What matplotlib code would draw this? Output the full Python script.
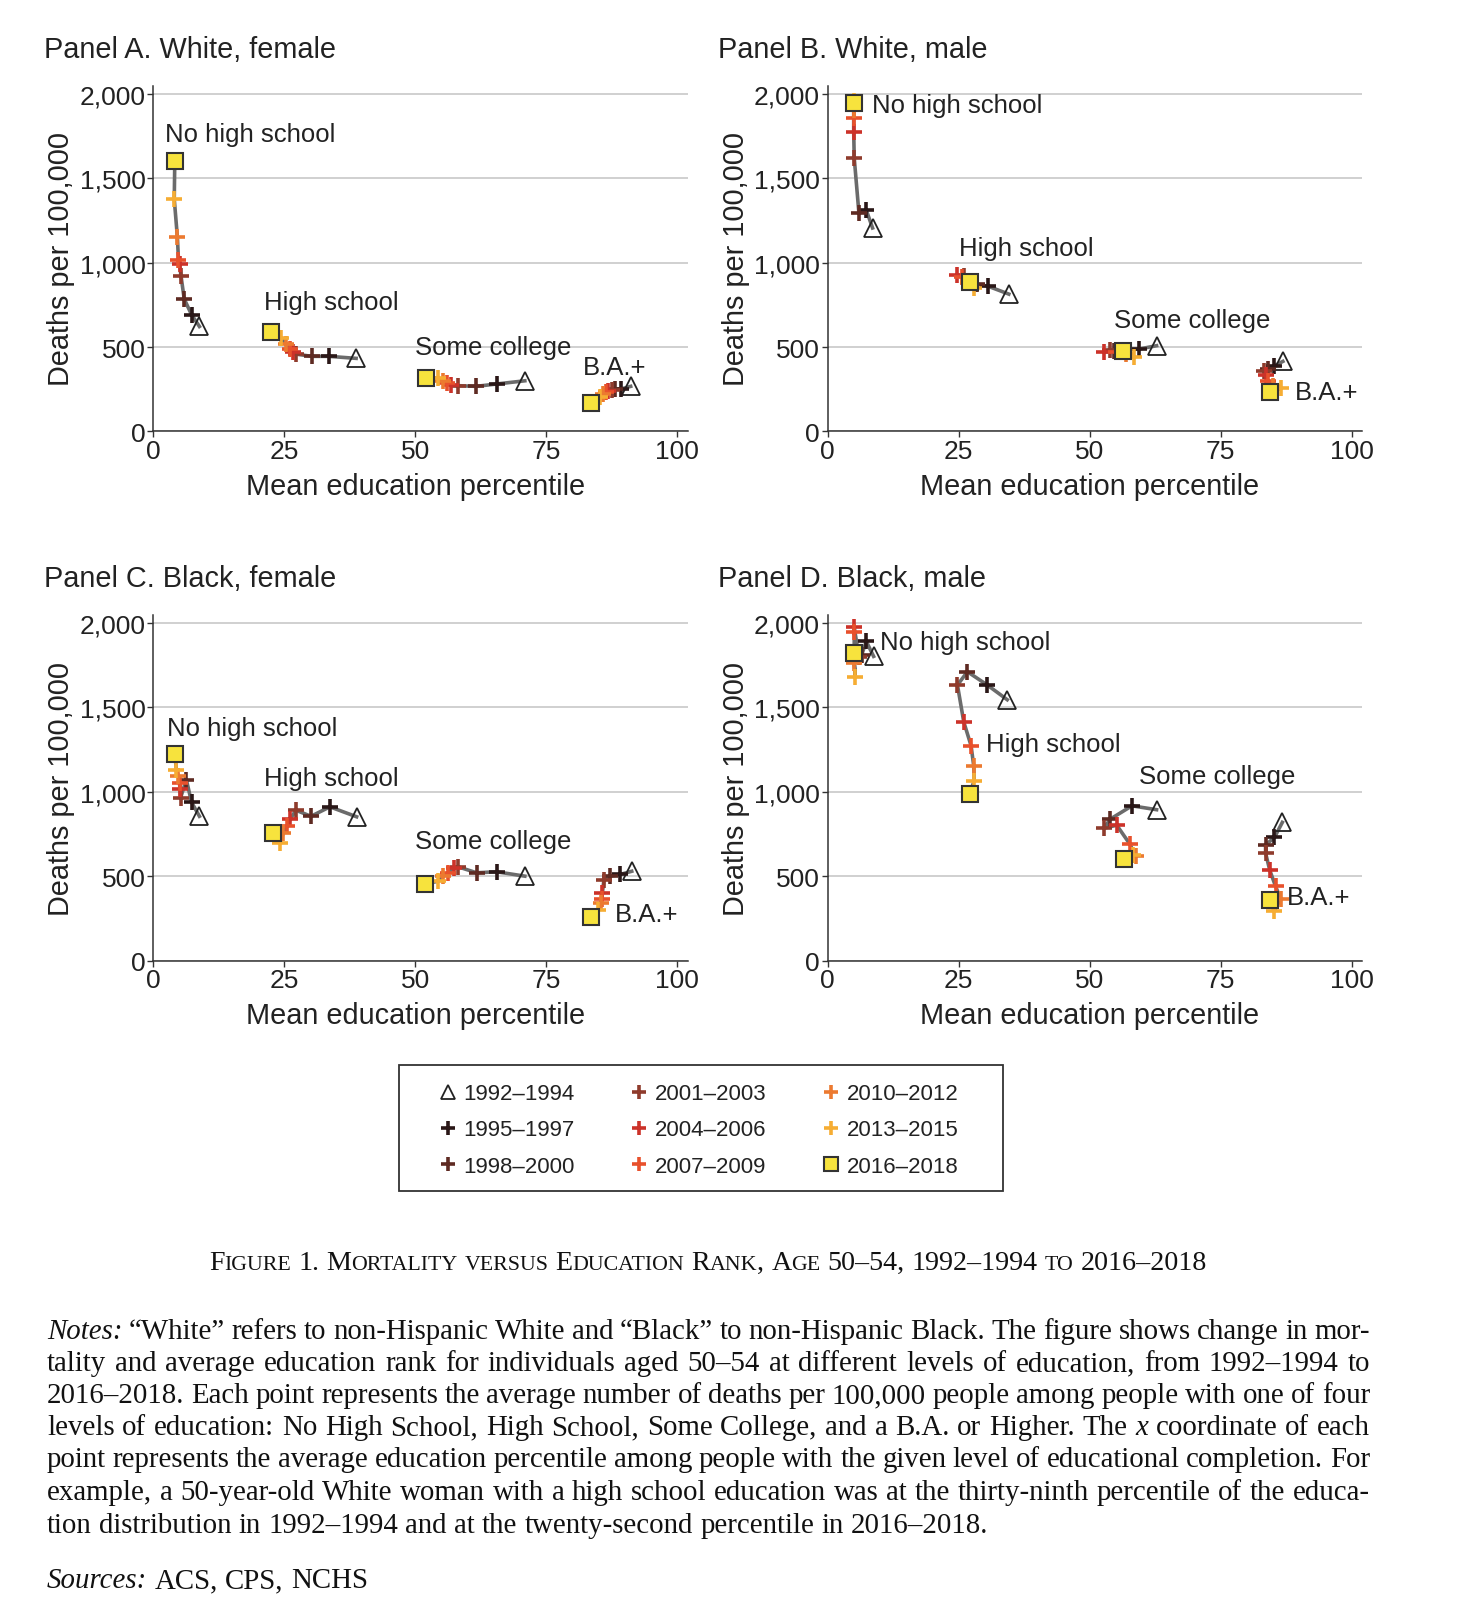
import matplotlib
matplotlib.use('Agg')
import matplotlib.pyplot as plt
from matplotlib.lines import Line2D
from matplotlib.patches import Rectangle

plt.rcParams['font.family'] = ['Liberation Sans', 'DejaVu Sans']

# periods, oldest first
periods = ['1992–1994', '1995–1997', '1998–2000', '2001–2003', '2004–2006',
           '2007–2009', '2010–2012', '2013–2015', '2016–2018']
period_colors = ['#222222', '#2a1717', '#5e2a22', '#8f3b2c', '#cc3229',
                 '#e8512c', '#ec7a30', '#f6ad33', '#f7e33d']

levels = ['No high school', 'High school', 'Some college', 'B.A.+']

# Panel A. White, female
a_x = [[8.8, 7.3, 5.9, 5.3, 5.0, 4.8, 4.6, 4.0, 4.1],
       [38.7, 33.5, 30.2, 27.3, 26.7, 26.0, 25.4, 24.4, 22.5],
       [70.9, 65.5, 61.6, 58.2, 56.8, 56.1, 55.3, 54.4, 52.0],
       [91.1, 89.2, 88.1, 87.5, 86.8, 86.4, 85.9, 85.2, 83.5]]
a_y = [[622, 692, 785, 919, 992, 1018, 1150, 1377, 1601],
       [433, 445, 445, 458, 468, 488, 518, 551, 587],
       [300, 281, 267, 271, 275, 285, 300, 316, 316],
       [267, 251, 251, 247, 241, 232, 222, 202, 168]]

# Panel B. White, male
b_x = [[8.6, 7.4, 6.0, 5.1, 5.0, 5.0, 5.0, 5.0, 5.0],
       [34.6, 30.7, 28.6, 26.0, 24.8, 25.6, 26.8, 27.9, 27.2],
       [62.8, 59.4, 54.6, 53.9, 52.7, 55.0, 57.0, 58.5, 56.4],
       [86.9, 85.3, 84.0, 83.3, 83.6, 84.0, 85.0, 86.5, 84.5]]
b_y = [[1206, 1312, 1293, 1621, 1777, 1858, 1905, 1958, 1945],
       [814, 860, 872, 923, 927, 915, 885, 848, 887],
       [508, 488, 478, 484, 472, 470, 460, 439, 475],
       [415, 389, 370, 360, 334, 300, 270, 255, 235]]

# Panel C. Black, female
c_x = [[8.8, 7.3, 6.3, 5.2, 5.1, 5.0, 4.8, 4.4, 4.1],
       [38.8, 33.7, 30.1, 27.2, 26.1, 25.5, 24.8, 24.2, 22.8],
       [70.9, 65.5, 61.7, 58.2, 57.3, 56.3, 55.3, 54.4, 51.9],
       [91.3, 89.1, 87.2, 86.0, 85.7, 85.6, 85.4, 84.9, 83.5]]
c_y = [[855, 938, 1073, 964, 1014, 1053, 1093, 1132, 1225],
       [852, 911, 855, 891, 836, 796, 757, 698, 753],
       [500, 526, 520, 555, 549, 520, 500, 470, 455],
       [529, 510, 500, 480, 401, 362, 342, 302, 259]]

# Panel D. Black, male
d_x = [[8.8, 7.4, 6.5, 6.0, 5.1, 5.1, 5.1, 5.3, 5.0],
       [34.3, 30.5, 26.7, 24.8, 26.0, 27.4, 27.9, 28.0, 27.1],
       [62.8, 58.1, 54.0, 52.7, 55.2, 57.7, 58.8, 58.3, 56.5],
       [86.8, 85.3, 83.6, 83.6, 84.4, 85.5, 86.5, 85.2, 84.5]]
d_y = [[1803, 1892, 1810, 1800, 1975, 1950, 1763, 1678, 1823],
       [1546, 1633, 1712, 1633, 1415, 1273, 1155, 1066, 987],
       [894, 917, 839, 784, 802, 690, 617, 625, 603],
       [819, 730, 685, 637, 535, 440, 365, 294, 360]]

panel_titles = ['Panel A. White, female', 'Panel B. White, male',
                'Panel C. Black, female', 'Panel D. Black, male']

# where the level labels sit (data coords)
a_lab = [(2.2, 1763), (21.1, 769), (50.0, 503), (82.0, 381)]
b_lab = [(8.4, 1933), (25.1, 1090), (54.6, 660), (89.1, 236)]
c_lab = [(2.6, 1378), (21.1, 1081), (50.0, 711), (88.0, 275)]
d_lab = [(10.0, 1887), (30.2, 1281), (59.4, 1093), (87.6, 378)]

yticks = [0, 500, 1000, 1500, 2000]
ytick_labels = ['0', '500', '1,000', '1,500', '2,000']
xticks = [0, 25, 50, 75, 100]

W, H = 1468, 1606
fig = plt.figure(figsize=(W / 100, H / 100), dpi=100)
txt = '#222222'

def marker_style(i, legend=False):
    if i == 0:
        return dict(marker='^', mfc='none', mec='#222222', mew=1.3,
                    ms=10.5 if legend else 12.5)
    if i == 8:
        return dict(marker='s', mfc=period_colors[8], mec='#333333', mew=1.5,
                    ms=10 if legend else 11)
    return dict(marker='+', color=period_colors[i], mew=2.6,
                ms=10 if legend else 11)

origins = [(153.3, 432.4), (827.5, 432.4), (153.3, 961.5), (827.5, 961.5)]
xs = [a_x, b_x, c_x, d_x]
ys = [a_y, b_y, c_y, d_y]
labs = [a_lab, b_lab, c_lab, d_lab]

for p in range(4):
    x0, y0 = origins[p]
    ax = fig.add_axes([x0 / W, 1 - y0 / H, 534.5 / W, 345.8 / H])
    ax.set_xlim(0, 102)
    ax.set_ylim(0, 2050)
    for s in ['top', 'right']:
        ax.spines[s].set_visible(False)
    for s in ['left', 'bottom']:
        ax.spines[s].set_color('#333333')
        ax.spines[s].set_linewidth(1.1)
    ax.set_yticks(yticks)
    ax.set_yticklabels(ytick_labels)
    ax.set_xticks(xticks)
    ax.tick_params(length=4.5, width=1, color='#333333', labelsize=19,
                   labelcolor=txt, pad=1)
    ax.yaxis.grid(True, color='#c8c8c8', lw=1.2)
    ax.set_axisbelow(True)

    for k in range(4):
        ax.plot(xs[p][k], ys[p][k], color='#6b6b6b', lw=2.6, zorder=2)
        for i in range(9):
            ax.plot(xs[p][k][i], ys[p][k][i], linestyle='none', zorder=3 + i,
                    **marker_style(i))
        lx, ly = labs[p][k]
        ax.text(lx, ly, levels[k], fontsize=18.5, color=txt, ha='left',
                va='center', zorder=20)

    ax.set_xlabel('Mean education percentile', fontsize=20.8, color=txt,
                  va='center')
    ax.xaxis.set_label_coords(0.49, -0.158)
    ax.set_ylabel('Deaths per 100,000', fontsize=20.8, color=txt, va='center')
    ax.yaxis.set_label_coords(-0.172, 0.5)
    ax.text(-0.205, 1.105, panel_titles[p], transform=ax.transAxes,
            fontsize=20.8, color=txt, ha='left', va='center')

# legend: frame drawn separately so the padding matches
handles = [Line2D([], [], linestyle='none', **marker_style(i, True))
           for i in range(9)]
fig.patches.append(Rectangle((399 / W, 1 - 1192 / H), 604 / W, 126 / H,
                             transform=fig.transFigure, fill=False,
                             ec='#333333', lw=1.3))
leg = fig.legend(handles, periods, ncol=3, loc='center',
                 bbox_to_anchor=(698 / W, 1 - 1131 / H), frameon=False,
                 fontsize=16, handlelength=0.9, handletextpad=0.25,
                 columnspacing=2.45, labelspacing=0.68, borderpad=0)
for t in leg.get_texts():
    t.set_color(txt)

# caption and notes, laid out word by word
renderer = fig.canvas.get_renderer()
serif = ['Liberation Serif', 'DejaVu Serif']

def width_of(s, size, style='normal'):
    t = fig.text(0, 0, s, fontsize=size, family=serif, style=style)
    w = t.get_window_extent(renderer).width
    t.remove()
    return w

def sc_runs(word):
    runs = []
    for ch in word:
        small = ch.islower()
        if runs and runs[-1][1] == small:
            runs[-1][0] += ch.upper()
        else:
            runs.append([ch.upper(), small])
    return runs

caption = 'Figure 1. Mortality versus Education Rank, Age 50–54, 1992–1994 to 2016–2018'

def caption_width(size):
    small = size * 0.78
    total = 0
    words = caption.split(' ')
    for w in words:
        for r, sm in sc_runs(w):
            total += width_of(r, small if sm else size)
    total += (len(words) - 1) * (width_of('a a', size) - width_of('aa', size))
    return total

cap_size = 17 * 997 / caption_width(17)
cap_small = cap_size * 0.78
cap_space = width_of('a a', cap_size) - width_of('aa', cap_size)
cx = 708 - caption_width(cap_size) / 2
for w in caption.split(' '):
    for r, sm in sc_runs(w):
        sz = cap_small if sm else cap_size
        fig.text(cx / W, 1 - 1270 / H, r, fontsize=sz, family=serif,
                 color='#111111', va='baseline', ha='left')
        cx += width_of(r, sz)
    cx += cap_space

note_lines = [
    '*Notes:* “White” refers to non-Hispanic White and “Black” to non-Hispanic Black. The figure shows change in mor-',
    'tality and average education rank for individuals aged 50–54 at different levels of education, from 1992–1994 to',
    '2016–2018. Each point represents the average number of deaths per 100,000 people among people with one of four',
    'levels of education: No High School, High School, Some College, and a B.A. or Higher. The *x* coordinate of each',
    'point represents the average education percentile among people with the given level of educational completion. For',
    'example, a 50-year-old White woman with a high school education was at the thirty-ninth percentile of the educa-',
    'tion distribution in 1992–1994 and at the twenty-second percentile in 2016–2018.',
]
note_base = [1339, 1371, 1403, 1435, 1467, 1500, 1533]
sources = '*Sources:* ACS, CPS, NCHS'

def split_words(line):
    out = []
    for w in line.split(' '):
        if w.startswith('*') and w.endswith('*'):
            out.append((w.strip('*'), 'italic'))
        else:
            out.append((w, 'normal'))
    return out

left, right = 47, 1370

def natural(line, size):
    ws = split_words(line)
    sp = width_of('a a', size) - width_of('aa', size)
    return sum(width_of(w, size, st) for w, st in ws) + sp * (len(ws) - 1)

avg = sum(natural(l, 18) for l in note_lines[:6]) / 6
note_size = 18 * (right - left) / avg
note_space = width_of('a a', note_size) - width_of('aa', note_size)

for n, line in enumerate(note_lines + [sources]):
    ws = split_words(line)
    wid = [width_of(w, note_size, st) for w, st in ws]
    if n < 6:
        gap = (right - left - sum(wid)) / (len(ws) - 1)
    else:
        gap = note_space
    yb = note_base[n] if n < 7 else 1588
    x = left
    for (w, st), ww in zip(ws, wid):
        fig.text(x / W, 1 - yb / H, w, fontsize=note_size, family=serif,
                 style=st, color='#111111', va='baseline', ha='left')
        x += ww + gap

fig.savefig('out.png', dpi=100)
